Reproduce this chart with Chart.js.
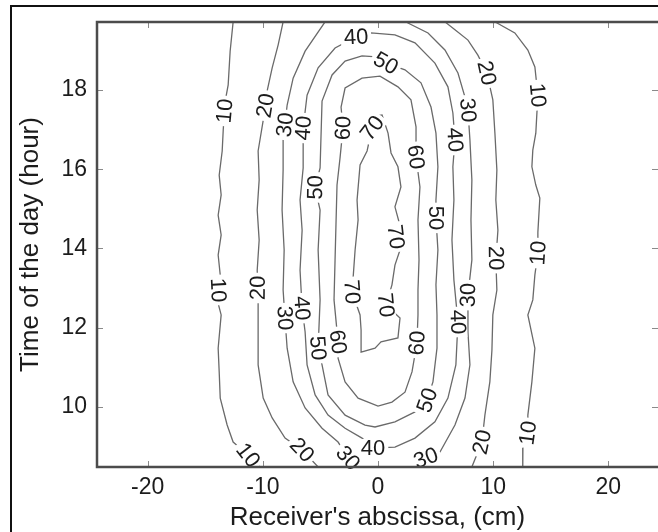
<!DOCTYPE html>
<html>
<head>
<meta charset="utf-8">
<script src="https://cdn.jsdelivr.net/npm/chart.js@4.4.0/dist/chart.umd.min.js"></script>
<style>
  html, body { margin: 0; padding: 0; background: #fff; }
  #wrap { position: relative; width: 658px; height: 532px; overflow: hidden; }
  #frame { position: absolute; left: 10px; top: 5px; width: 700px; height: 600px;
           border-left: 2px solid #111; border-top: 2px solid #111; pointer-events: none; }
</style>
</head>
<body>
<div id="wrap">
  <canvas id="contourChart"></canvas>
  <div id="frame"></div>
</div>
<script>
// Axis ticks
const xTicks = [-20, -10, 0, 10, 20];
const yTicks = [10, 12, 14, 16, 18];

// Contour lines, [abscissa (cm), hour]
const contour10Left = [[-12.5,19.85],[-12.58,19.72],[-12.84,18.98],[-13.01,18.13],[-13.27,17.72],[-13.44,16.99],[-13.53,16.46],[-13.79,15.85],[-13.62,15.35],[-13.88,14.84],[-13.62,14.34],[-13.88,13.83],[-13.70,13.33],[-13.96,12.70],[-13.62,12.32],[-13.88,11.48],[-13.79,10.88],[-13.70,10.22],[-13.10,9.54],[-12.58,9.11],[-11.27,8.78],[-10.23,8.48],[-9.70,8.28]];
const contour20Left = [[-8.15,19.85],[-8.24,19.72],[-8.67,19.14],[-9.19,18.56],[-9.63,17.97],[-9.89,17.37],[-10.41,16.46],[-10.32,15.73],[-10.49,14.97],[-10.32,14.21],[-10.49,13.45],[-10.41,12.70],[-10.41,11.94],[-10.41,11.06],[-9.97,10.22],[-9.19,9.72],[-8.07,9.21],[-6.59,8.91],[-5.20,8.48],[-4.60,8.28]];
const contour30 = [[-4.45,19.85],[-4.60,19.72],[-6.33,18.98],[-7.37,18.30],[-7.89,17.62],[-8.24,16.74],[-8.24,15.98],[-8.33,14.97],[-8.15,13.96],[-8.24,12.95],[-8.07,12.19],[-7.89,11.48],[-7.37,10.63],[-6.33,9.97],[-4.86,9.46],[-3.47,9.11],[-2.60,8.71],[-1.99,8.48],[1.04,8.40],[3.64,8.48],[4.16,8.71],[5.38,8.86],[6.68,9.54],[7.55,10.22],[7.98,11.06],[7.81,11.89],[7.81,12.82],[8.15,13.71],[8.07,14.72],[8.15,15.73],[7.98,16.74],[7.81,17.49],[7.55,17.82],[6.94,18.43],[5.81,19.01],[4.34,19.44],[2.60,19.69],[1.90,19.85]];
const contour40 = [[-1.91,19.34],[-0.61,19.44],[1.47,19.39],[3.21,19.19],[4.94,18.68],[6.07,18.08],[6.50,17.42],[6.68,16.74],[6.50,16.06],[6.59,15.22],[6.42,14.21],[6.59,13.20],[6.94,12.14],[6.76,11.06],[6.07,10.22],[4.94,9.62],[3.21,9.21],[1.47,8.98],[-0.43,8.96],[-1.39,9.21],[-2.86,9.46],[-4.34,9.79],[-5.46,10.30],[-6.16,11.06],[-6.33,11.89],[-6.59,12.49],[-6.77,13.45],[-6.59,14.46],[-6.77,15.22],[-6.50,16.03],[-6.50,17.04],[-6.16,17.87],[-5.20,18.56],[-3.73,19.06],[-1.91,19.34]];
const contour50 = [[0.69,18.68],[2.34,18.51],[3.73,18.18],[4.60,17.57],[5.03,16.91],[5.20,16.06],[5.03,15.22],[5.03,14.77],[5.20,13.96],[5.03,13.08],[5.12,12.32],[5.12,11.48],[4.77,10.63],[4.25,10.17],[3.21,9.87],[1.47,9.62],[-0.26,9.49],[-1.13,9.54],[-2.86,9.79],[-4.34,10.30],[-4.86,11.06],[-5.20,11.48],[-5.03,12.70],[-5.20,13.96],[-5.03,14.97],[-5.46,15.53],[-5.03,16.03],[-4.86,17.72],[-3.99,18.38],[-2.86,18.73],[-1.39,18.86],[0.17,18.83],[0.69,18.68]];
const contour60 = [[-3.21,17.57],[-2.86,18.05],[-1.39,18.30],[0.17,18.35],[1.73,18.08],[2.86,17.75],[3.30,17.07],[3.30,16.31],[3.64,15.55],[3.47,14.72],[3.56,13.71],[3.47,12.95],[3.47,12.32],[3.38,11.61],[2.95,10.88],[2.34,10.37],[1.21,10.12],[0,10.02],[-1.73,10.22],[-2.86,10.63],[-3.47,11.23],[-3.47,11.64],[-3.82,12.70],[-3.73,13.71],[-3.64,14.72],[-3.56,15.60],[-3.30,16.28],[-3.04,17.04],[-3.21,17.57]];
const contour70 = [[-0.52,17.04],[-0.26,17.34],[0.35,17.37],[0.87,16.91],[1.13,16.41],[1.73,16.06],[1.99,15.55],[1.47,15.05],[1.82,14.67],[1.56,14.29],[1.91,13.96],[1.47,13.58],[1.21,13.08],[0.69,12.57],[1.91,12.24],[1.73,11.74],[0.26,11.64],[-0.26,11.48],[-1.47,11.38],[-1.47,11.94],[-1.56,12.32],[-2.25,12.90],[-1.99,13.96],[-1.73,14.72],[-1.82,15.22],[-1.56,16.11],[-0.95,16.46],[-0.52,17.04]];
const contour20Right = [[8.15,8.28],[8.15,8.48],[9.02,9.11],[9.28,9.79],[9.71,10.63],[9.89,11.43],[9.97,12.32],[10.32,12.95],[10.23,13.71],[10.41,14.46],[10.23,15.22],[10.32,15.98],[10.15,16.91],[9.97,17.75],[9.45,18.43],[8.67,18.88],[7.81,19.26],[6.68,19.52],[5.81,19.72],[5.5,19.85]];
const contour10Right = [[9.9,19.85],[10.15,19.72],[11.88,19.44],[13.01,19.01],[13.62,18.58],[13.88,17.87],[13.70,16.91],[13.44,16.48],[13.36,16.06],[13.70,15.60],[14.05,15.27],[13.88,14.41],[13.88,13.88],[13.62,13.33],[13.44,12.70],[13.01,12.32],[13.62,11.48],[13.36,10.63],[13.01,9.79],[13.01,9.34],[12.58,8.96],[12.58,8.48],[12.55,8.28]];

const contourSets = [
    [10, contour10Left], [20, contour20Left], [30, contour30], [40, contour40],
    [50, contour50], [60, contour60], [70, contour70], [20, contour20Right], [10, contour10Right]
];

// Inline level labels: [level, abscissa, hour]
const contourLabels = [
    [10,-13.27,17.47],[10,-13.9,12.95],[10,-11.27,8.78],
    [20,-9.63,17.60],[20,-10.45,13.00],[20,-6.59,8.91],
    [30,-8.1,17.12],[30,-8.07,12.24],[30,-2.60,8.71],
    [40,-1.91,19.34],[40,-6.50,17.04],[40,-6.59,12.49],[40,-0.43,8.96],[40,6.94,12.14],[40,6.68,16.74],
    [50,0.69,18.68],[50,-5.3,15.53],[50,-5.20,11.48],[50,4.25,10.17],[50,5.03,14.77],
    [60,-3.04,17.04],[60,-3.47,11.64],[60,3.38,11.61],[60,3.30,16.31],
    [70,-0.52,17.04],[70,-2.25,12.90],[70,0.69,12.57],[70,1.47,14.29],
    [30,7.81,17.49],[30,7.81,12.82],[30,4.16,8.71],
    [20,9.45,18.43],[20,9.97,13.76],[20,9.02,9.11],
    [10,13.88,17.87],[10,13.88,13.88],[10,13.01,9.34]
];

const fontFamily = '"Liberation Sans", Arial, Helvetica, sans-serif';
const textColor = '#1c1c1c';
const lineColor = '#6a6a6a';

// Draws the contour labels, the box and the inward ticks
const contourDecor = {
    id: 'contourDecor',
    afterDatasetsDraw(chart) {
        const { ctx, chartArea: a, scales: { x, y } } = chart;
        ctx.save();
        ctx.font = '22px ' + fontFamily;
        ctx.textAlign = 'center';
        ctx.textBaseline = 'middle';

        contourLabels.forEach(([level, lx, ly]) => {
            const px = x.getPixelForValue(lx), py = y.getPixelForValue(ly);
            let best = { d: Infinity };
            contourSets.forEach(([lv, pts]) => {
                if (lv !== level) return;
                const p = pts.map(([vx, vy]) => [x.getPixelForValue(vx), y.getPixelForValue(vy)]);
                for (let i = 0; i < p.length - 1; i++) {
                    const [x0, y0] = p[i], [x1, y1] = p[i + 1];
                    const dx = x1 - x0, dy = y1 - y0;
                    const t = Math.max(0, Math.min(1, ((px - x0) * dx + (py - y0) * dy) / (dx * dx + dy * dy || 1)));
                    const qx = x0 + t * dx, qy = y0 + t * dy;
                    const d = Math.hypot(px - qx, py - qy);
                    if (d < best.d) {
                        const a0 = p[Math.max(0, i - 1)], a1 = p[Math.min(p.length - 1, i + 2)];
                        best = { d, qx, qy, ang: Math.atan2(a1[1] - a0[1], a1[0] - a0[0]) };
                    }
                }
            });
            let ang = best.ang;
            if (ang > Math.PI / 2) ang -= Math.PI;
            if (ang < -Math.PI / 2) ang += Math.PI;
            const text = String(level);
            const w = ctx.measureText(text).width;
            ctx.save();
            ctx.translate(best.qx, best.qy);
            ctx.rotate(ang);
            ctx.fillStyle = '#fff';
            ctx.fillRect(-w / 2 - 3, -9, w + 6, 18);
            ctx.fillStyle = textColor;
            ctx.fillText(text, 0, 1);
            ctx.restore();
        });

        // inward ticks
        ctx.strokeStyle = '#8a8a8a';
        ctx.lineWidth = 1;
        ctx.beginPath();
        xTicks.forEach(v => {
            const px = Math.round(x.getPixelForValue(v)) + 0.5;
            ctx.moveTo(px, a.bottom); ctx.lineTo(px, a.bottom - 6);
            ctx.moveTo(px, a.top); ctx.lineTo(px, a.top + 6);
        });
        yTicks.forEach(v => {
            const py = Math.round(y.getPixelForValue(v)) + 0.5;
            ctx.moveTo(a.left, py); ctx.lineTo(a.left + 6, py);
            ctx.moveTo(a.right, py); ctx.lineTo(a.right - 6, py);
        });
        ctx.stroke();

        // axes box (right side falls outside the picture)
        ctx.strokeStyle = '#4c4c4c';
        ctx.lineWidth = 2.5;
        ctx.beginPath();
        ctx.moveTo(a.right + 2, a.top); ctx.lineTo(a.left, a.top);
        ctx.lineTo(a.left, a.bottom); ctx.lineTo(a.right + 2, a.bottom);
        ctx.stroke();
        ctx.restore();
    }
};

const ctxContour = document.getElementById('contourChart').getContext('2d');
const contourChart = new Chart(ctxContour, {
    type: 'scatter',
    data: {
        datasets: contourSets.map(([level, pts]) => ({
            label: String(level),
            data: pts.map(([vx, vy]) => ({ x: vx, y: vy })),
            showLine: true,
            borderColor: lineColor,
            borderWidth: 1.3,
            pointRadius: 0,
            tension: 0
        }))
    },
    options: {
        responsive: true,
        maintainAspectRatio: false,
        animation: false,
        events: [],
        layout: { padding: { top: 22, right: 0, left: 0, bottom: 0 } },
        plugins: {
            legend: { display: false },
            tooltip: { enabled: false }
        },
        scales: {
            x: {
                type: 'linear',
                min: -24.4,
                max: 24.31,
                afterBuildTicks: s => { s.ticks = xTicks.map(v => ({ value: v })); },
                afterFit: s => { s.height = 65; s.paddingLeft = 0; s.paddingRight = 0; },
                grid: { display: false, drawTicks: false },
                border: { display: false },
                ticks: {
                    color: textColor, padding: 7, maxRotation: 0, autoSkip: false,
                    font: { family: fontFamily, size: 23 },
                    callback: v => String(v)
                },
                title: {
                    display: true, text: "Receiver's abscissa, (cm)", color: textColor,
                    font: { family: fontFamily, size: 26, lineHeight: 1.1 }, padding: { top: 0, bottom: 0 }
                }
            },
            y: {
                type: 'linear',
                min: 8.48,
                max: 19.717,
                afterBuildTicks: s => { s.ticks = yTicks.map(v => ({ value: v })); },
                afterFit: s => { s.width = 97; s.paddingTop = 0; s.paddingBottom = 0; },
                grid: { display: false, drawTicks: false },
                border: { display: false },
                ticks: {
                    color: textColor, padding: 10, autoSkip: false,
                    font: { family: fontFamily, size: 23 },
                    callback: v => String(v)
                },
                title: {
                    display: true, text: 'Time of the day (hour)', color: textColor,
                    font: { family: fontFamily, size: 26, lineHeight: 1.1 }, padding: { top: 17, bottom: 0 }
                }
            }
        }
    },
    plugins: [contourDecor]
});
</script>
</body>
</html>
